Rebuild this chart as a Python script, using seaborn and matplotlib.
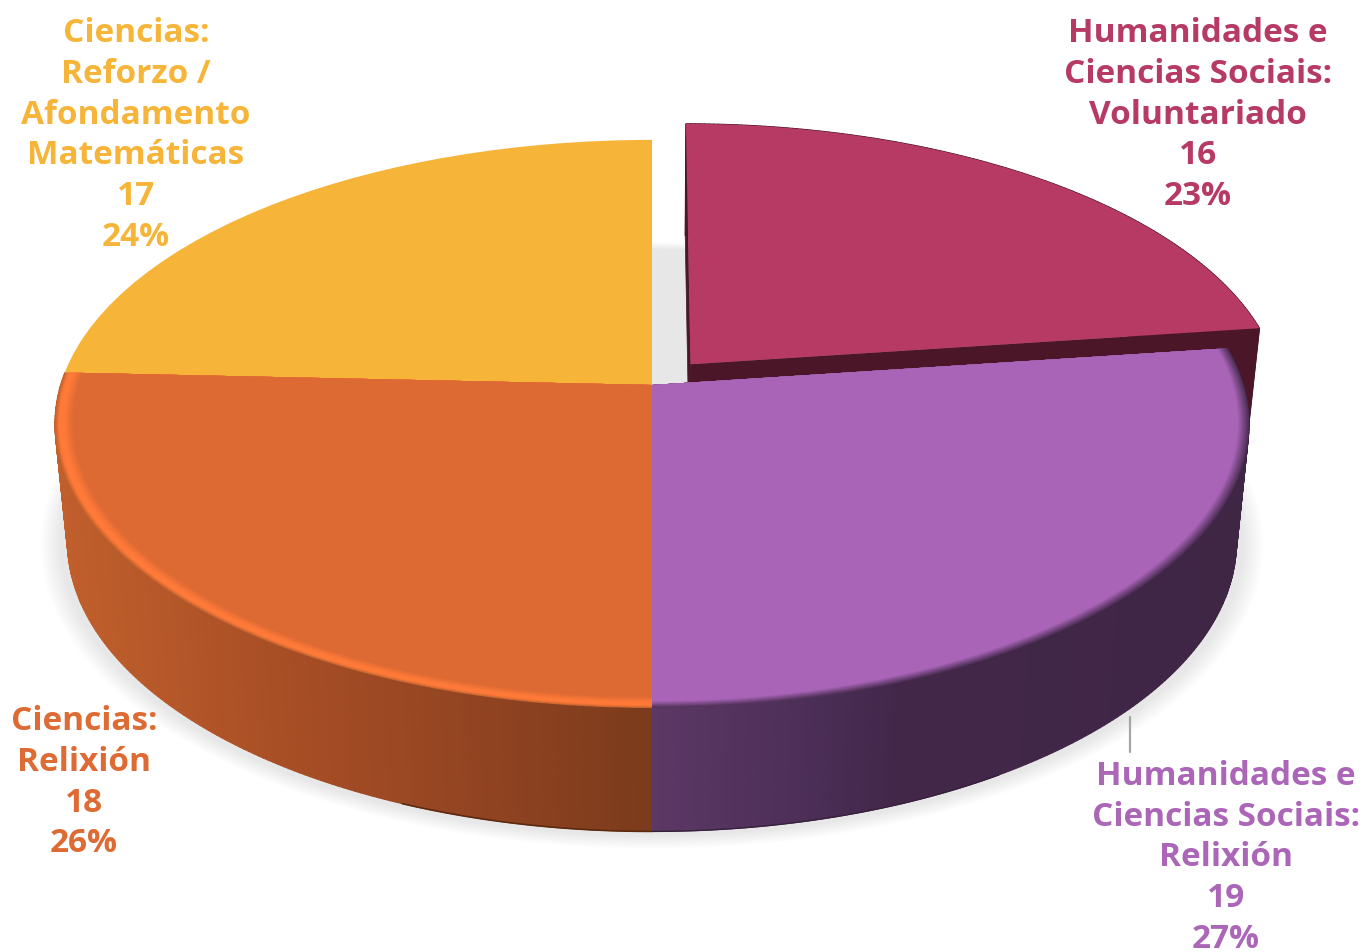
import numpy as np
import matplotlib
matplotlib.use("Agg")
import matplotlib.pyplot as plt
import matplotlib.transforms as mtransforms
from matplotlib.collections import PolyCollection
from matplotlib.colors import to_rgb
import seaborn as sns

# Data
categories = [
    "Humanidades e\nCiencias Sociais:\nVoluntariado",
    "Humanidades e\nCiencias Sociais:\nRelixión",
    "Ciencias:\nRelixión",
    "Ciencias:\nReforzo /\nAfondamento\nMatemáticas",
]
values = [16, 19, 18, 17]
explode = [0.1, 0, 0, 0]

face_colors = ["#b63a63", "#a964b7", "#de6a33", "#f6b538"]
text_colors = ["#b63a63", "#ab66b8", "#df6b34", "#f6b538"]

sns.set_theme(style="white")
plt.rcParams["font.family"] = ["Open Sans", "DejaVu Sans"]

# Perspective of the tilted disc, in pixels of the output
CX, CY = 652, 385
A, B, K = 591.4, 278.7, 0.137
LOW_SX, LOW_SY, LOW_DY = 0.979, 1.02, 117


class Tilt(mtransforms.Transform):
    input_dims = 2
    output_dims = 2
    is_separable = False

    def __init__(self, lower=False):
        super().__init__()
        self.lower = lower

    def transform_non_affine(self, values):
        x, y = np.asarray(values, dtype=float).T
        w = 1 + K * y
        px = A * x / w
        py = -B * y / w
        if self.lower:
            px = px * LOW_SX
            py = py * LOW_SY + LOW_DY
        return np.column_stack([CX + px, CY + py])


top = Tilt()
low = Tilt(lower=True)

fig = plt.figure(figsize=(13.64, 9.52), dpi=100)
ax = fig.add_axes([0, 0, 1, 1])


def draw_pie(colors, radius=1.0, tilt=top, keep=(0, 1, 2, 3), alpha=None, z=2, pull=explode):
    wedges, _ = ax.pie(values, colors=colors, radius=radius, explode=pull,
                       startangle=90, counterclock=False,
                       wedgeprops=dict(linewidth=0, alpha=alpha))
    for i, w in enumerate(wedges):
        w.set_transform(tilt + ax.transData)
        w.set_zorder(z)
        w.set_visible(i in keep)
    return wedges


def ramp(px, stops):
    xs = [s[0] for s in stops]
    rgb = np.array([to_rgb(s[1]) for s in stops])
    return np.column_stack([np.interp(px, xs, rgb[:, c]) for c in range(3)])


def wall(wedge, stops, z):
    # outer rim of one slice, cut in narrow strips so the shade can change
    t = np.radians(np.linspace(wedge.theta1, wedge.theta2, 160))
    pts = np.column_stack([wedge.center[0] + wedge.r * np.cos(t),
                           wedge.center[1] + wedge.r * np.sin(t)])
    up = top.transform(pts)
    dn = low.transform(pts)
    quads = [[up[i], up[i + 1], dn[i + 1], dn[i]] for i in range(len(t) - 1)]
    cols = ramp((up[:-1, 0] + up[1:, 0]) / 2, stops)
    ax.add_collection(PolyCollection(quads, facecolors=cols, edgecolors=cols,
                                     linewidths=0.8, zorder=z))
    return dn


def cut_wall(wedge, theta, color, z):
    # flat side that the pulled-out slice shows
    c = np.array(wedge.center)
    p = c + wedge.r * np.array([np.cos(np.radians(theta)), np.sin(np.radians(theta))])
    pts = np.array([c, p])
    up = top.transform(pts)
    dn = low.transform(pts)
    ax.fill([up[0, 0], up[1, 0], dn[1, 0], dn[0, 0]],
            [up[0, 1], up[1, 1], dn[1, 1], dn[0, 1]],
            color=color, linewidth=0.5, zorder=z)


def bevel(index, stops, z=6):
    # soft edge of one slice: stacked smaller slices, colour follows the radius
    radii = [s[0] for s in stops]
    for r in np.linspace(radii[0], radii[-1], 14):
        col = ramp(np.array([-r]), [(-s[0], s[1]) for s in stops])[0]
        colors = [col] * 4
        draw_pie(colors, radius=r, keep=(index,), z=z)


# soft shadow under the disc, whole disc plus a fainter one for the pulled slice
no_pull = [0] * len(values)
for r in np.linspace(1.012, 1.045, 12):
    draw_pie(["black"] * 4, radius=r, tilt=low, alpha=0.0092, z=1, pull=no_pull)
for r in np.linspace(0.97, 1.03, 10):
    draw_pie(["black"] * 4, radius=r, tilt=low, alpha=0.005, z=1, keep=(0,))

base = draw_pie(face_colors, z=-5, keep=())

# pulled-out slice
dark = "#4a1628"
wall(base[0], [(0, dark), (1364, dark)], 3)
cut_wall(base[0], base[0].theta1, dark, 3)
cut_wall(base[0], base[0].theta2, dark, 3)
draw_pie(face_colors, keep=(0,), z=4)

# walls of the main body
orange_stops = [(60, "#c05f2c"), (300, "#a64d25"), (450, "#954522"), (650, "#7b3b1c")]
purple_stops = [(652, "#5c3865"), (800, "#4d2f59"), (900, "#432749"), (1250, "#3f2645")]
dn = wall(base[2], orange_stops, 5)
front = dn[:, 0] > 400
ax.plot(dn[front, 0], dn[front, 1], color="#5c2a10", lw=1.2, zorder=5)
dn = wall(base[1], purple_stops, 5)
front = dn[:, 0] < 1000
ax.plot(dn[front, 0], dn[front, 1], color="#38203c", lw=1.0, zorder=5)

# top faces, with the soft bevel at the edge
draw_pie(face_colors, keep=(3,), z=6)
bevel(1, [(1.0, "#4f3058"), (0.982, face_colors[1])])
bevel(2, [(1.0, "#c9652f"), (0.994, "#ff7a38"), (0.986, "#ff7a38"), (0.971, face_colors[2])])

ax.set_xlim(0, 1364)
ax.set_ylim(952, 0)
ax.set_aspect("auto")
ax.axis("off")

# leader line of the purple label
ax.plot([1130, 1130], [717, 752], color="#a6a6a6", lw=1.6, zorder=7)

# labels
label_x = [1198, 1226, 84, 136]
label_y = [17, 760, 705, 17]
total = sum(values)
for name, v, col, lx, ly in zip(categories, values, text_colors, label_x, label_y):
    txt = f"{name}\n{v}\n{round(v / total * 100)}%"
    ax.text(lx, ly, txt, color=col, ha="center", va="top", fontsize=24,
            fontweight="bold", linespacing=1.31, zorder=8, clip_on=False)

fig.savefig("out.png", dpi=100)
